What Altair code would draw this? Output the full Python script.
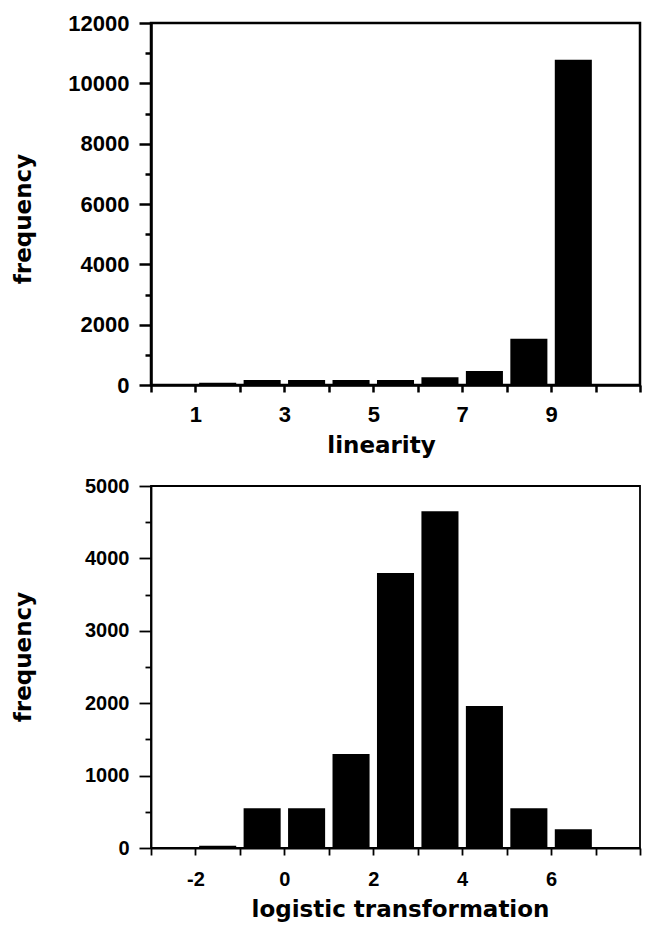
import altair as alt
import pandas as pd

# ---- data: top panel (linearity) ----
lin_start = [1, 2, 3, 4, 5, 6, 7, 8, 9]
lin_end = [2, 3, 4, 5, 6, 7, 8, 9, 10]
lin_freq = [75, 165, 165, 165, 165, 255, 460, 1530, 10780]
lin_x_ticks = [0, 1, 2, 3, 4, 5, 6, 7, 8, 9, 10, 11]
lin_x_labels = [1, 3, 5, 7, 9]
lin_y_major = [0, 2000, 4000, 6000, 8000, 10000, 12000]
lin_y_minor = [1000, 3000, 5000, 7000, 9000, 11000]

# ---- data: bottom panel (logistic transformation) ----
log_start = [-2, -1, 0, 1, 2, 3, 4, 5, 6]
log_end = [-1, 0, 1, 2, 3, 4, 5, 6, 7]
log_freq = [30, 550, 550, 1300, 3800, 4650, 1960, 550, 260]
log_x_ticks = [-3, -2, -1, 0, 1, 2, 3, 4, 5, 6, 7, 8]
log_x_labels = [-2, 0, 2, 4, 6]
log_y_major = [0, 1000, 2000, 3000, 4000, 5000]
log_y_minor = [500, 1500, 2500, 3500, 4500]

TITLE_FONT = "DejaVu Sans"
LABEL_FONT = "Liberation Sans"
W = 489
H = 362


def panel(start, end, freq, xdom, xticks, xlabels, ydom, ymajor, yminor,
          xtitle, label_size, x_label_pad, x_title_y, x_title_x, y_title_y,
          line_w):
    df = pd.DataFrame({"start": start, "end": end, "freq": freq})
    minor_df = pd.DataFrame({"m": yminor})
    lab_list = "[" + ",".join(str(v) for v in xlabels) + "]"
    xaxis = alt.Axis(
        values=xticks,
        labelExpr=f"indexof({lab_list}, datum.value) >= 0 ? ('' + datum.value) : ''",
        title=xtitle,
        titleFont=TITLE_FONT, titleFontSize=23, titleFontWeight="bold",
        titleColor="black", titleX=x_title_x, titleY=x_title_y,
        titleBaseline="alphabetic", titleAlign="center",
        labelFont=LABEL_FONT, labelFontSize=label_size, labelColor="black",
        labelFontWeight="bold",
        labelPadding=x_label_pad, tickSize=7, tickWidth=line_w,
        tickColor="black", domainColor="black", domainWidth=line_w,
        grid=False, labelFlush=False, labelOverlap=False,
    )
    yaxis = alt.Axis(
        values=ymajor, format="d",
        title="frequency",
        titleFont=TITLE_FONT, titleFontSize=23, titleFontWeight="bold",
        titleColor="black", titleX=-121, titleY=y_title_y,
        titleBaseline="alphabetic", titleAlign="center",
        labelFont=LABEL_FONT, labelFontSize=label_size, labelColor="black",
        labelFontWeight="bold",
        labelPadding=10, tickSize=12, tickWidth=line_w, tickColor="black",
        domainColor="black", domainWidth=line_w, grid=False,
        labelFlush=False, labelOverlap=False,
    )
    yminor_axis = alt.Axis(
        orient="left", values=yminor, labels=False, domain=False,
        tickSize=6, tickWidth=line_w, tickColor="black", title=None,
        grid=False,
    )
    yscale = alt.Scale(domain=ydom, nice=False)
    xscale = alt.Scale(domain=xdom, nice=False, zero=False)
    bars = alt.Chart(df).mark_bar(
        color="black", xOffset=3.7, x2Offset=-3.7
    ).encode(
        x=alt.X("start:Q", scale=xscale, axis=xaxis),
        x2="end:Q",
        y=alt.Y("freq:Q", scale=yscale, axis=yaxis),
        y2=alt.datum(0),
    )
    minor = alt.Chart(minor_df).mark_rule(opacity=0).encode(
        y=alt.Y("m:Q", scale=yscale, axis=yminor_axis),
    )
    return alt.layer(bars, minor).resolve_axis(y="independent").properties(
        width=W, height=H,
        view=alt.ViewBackground(stroke="black", strokeWidth=line_w, fill="white"),
    )


top = panel(lin_start, lin_end, lin_freq, [0, 11], lin_x_ticks, lin_x_labels,
            [0, 12000], lin_y_major, lin_y_minor, "linearity",
            22, 12.5, 67, 230, 195.5, 2.5)
bottom = panel(log_start, log_end, log_freq, [-3, 8], log_x_ticks, log_x_labels,
               [0, 5000], log_y_major, log_y_minor, "logistic transformation",
               20, 14.5, 68, 249, 170.5, 1.8)

chart = alt.vconcat(top, bottom, spacing=101, bounds="flush").properties(
    padding={"left": 2, "top": 2, "right": 0, "bottom": 0},
    background="white",
)

chart.save("out.html", embed_options={"renderer": "svg", "actions": False})
